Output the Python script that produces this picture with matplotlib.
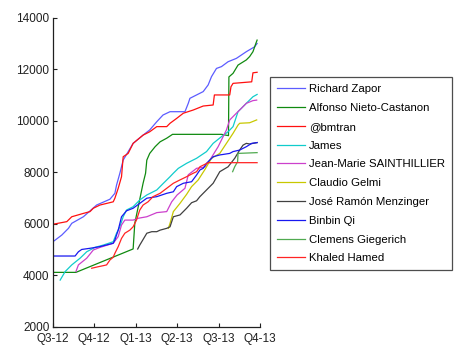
import matplotlib
matplotlib.use("Agg")
import matplotlib.pyplot as plt

plt.rcParams['font.family'] = ['Liberation Sans', 'DejaVu Sans']

quarter_labels = ["Q3-12", "Q4-12", "Q1-13", "Q2-13", "Q3-13", "Q4-13"]
y_ticks = [2000, 4000, 6000, 8000, 10000, 12000, 14000]

names = ["Richard Zapor", "Alfonso Nieto-Castanon", "@bmtran", "James",
         "Jean-Marie SAINTHILLIER", "Claudio Gelmi", "José Ramón Menzinger",
         "Binbin Qi", "Clemens Giegerich", "Khaled Hamed"]

# x in quarters since Q3-12, y = score
zapor_t = [0.04, 0.22, 0.38, 0.46, 0.74, 1.06, 1.38, 1.50, 1.54, 1.62, 1.70, 1.94, 2.18, 2.34,
           2.51, 2.66, 2.83, 3.19, 3.27, 3.31, 3.47, 3.63, 3.75, 3.83, 3.95, 4.07, 4.23, 4.43,
           4.67, 4.87, 4.93]
zapor_v = [5340, 5560, 5820, 6015, 6270, 6725, 6950, 7180, 7500, 7960, 8470, 9120, 9440, 9640,
           9960, 10220, 10350, 10350, 10675, 10870, 11000, 11130, 11390, 11710, 12030, 12100,
           12290, 12420, 12680, 12870, 13000]

alfonso_t = [0.0, 0.56, 1.94, 1.98, 2.18, 2.24, 2.27, 2.34, 2.47, 2.59, 2.75, 2.89, 4.07, 4.24,
             4.25, 4.35, 4.47, 4.67, 4.75, 4.83, 4.90, 4.93]
alfonso_v = [4110, 4110, 5020, 6015, 7570, 7960, 8470, 8730, 8990, 9180, 9320, 9470, 9470, 9420,
             11700, 11840, 12160, 12360, 12490, 12680, 13000, 13130]

bmtran_t = [0.0, 0.34, 0.46, 0.74, 0.90, 0.98, 1.14, 1.46, 1.50, 1.58, 1.66, 1.70, 1.82, 1.94,
            2.18, 2.34, 2.51, 2.75, 2.83, 2.99, 3.15, 3.39, 3.63, 3.87, 3.90, 4.27, 4.30, 4.35,
            4.80, 4.83, 4.93]
bmtran_v = [5977, 6080, 6270, 6400, 6470, 6600, 6725, 6850, 6990, 7375, 7825, 8600, 8730, 9120,
            9440, 9570, 9770, 9770, 9900, 10090, 10290, 10415, 10570, 10610, 11000, 11000, 11320,
            11450, 11510, 11860, 11880]

james_t = [0.18, 0.30, 0.46, 0.66, 0.82, 1.02, 1.22, 1.46, 1.54, 1.62, 1.70, 1.78, 1.94, 2.10,
           2.27, 2.51, 2.67, 2.83, 2.91, 3.03, 3.23, 3.47, 3.71, 3.87, 4.07, 4.23, 4.35, 4.47,
           4.67, 4.83, 4.93]
james_v = [3810, 4140, 4400, 4660, 4910, 5080, 5170, 5300, 5630, 5880, 6270, 6530, 6660, 6920,
           7115, 7310, 7570, 7825, 7960, 8150, 8345, 8540, 8800, 9120, 9380, 9570, 9770, 10350,
           10675, 10930, 11020]

jm_t = [0.56, 0.62, 0.82, 0.98, 1.14, 1.46, 1.58, 1.66, 1.74, 1.94, 2.06, 2.27, 2.51, 2.75,
        2.87, 3.00, 3.19, 3.27, 3.47, 3.67, 3.79, 3.99, 4.07, 4.19, 4.27, 4.43, 4.55, 4.67,
        4.83, 4.92]
jm_v = [4140, 4400, 4660, 4980, 5080, 5240, 5500, 5950, 6140, 6140, 6210, 6270, 6430, 6470,
        6850, 7115, 7375, 7900, 8150, 8200, 8470, 8990, 9250, 9640, 10030, 10290, 10480, 10675,
        10780, 10800]

gelmi_t = [2.79, 2.83, 2.91, 3.07, 3.23, 3.35, 3.51, 3.67, 3.83, 4.03, 4.19, 4.35, 4.47, 4.51,
           4.75, 4.92]
gelmi_v = [5820, 6015, 6470, 6790, 7140, 7440, 7700, 8100, 8540, 8730, 9120, 9510, 9830, 9900,
           9920, 10030]

jose_t = [2.05, 2.10, 2.27, 2.39, 2.51, 2.59, 2.75, 2.83, 2.91, 3.07, 3.23, 3.35, 3.47, 3.55,
          3.71, 3.87, 4.03, 4.23, 4.39, 4.51, 4.59, 4.67, 4.75, 4.93]
jose_v = [5017, 5170, 5630, 5690, 5690, 5750, 5820, 5880, 6270, 6340, 6600, 6815, 6890, 7050,
          7310, 7570, 8020, 8210, 8540, 8860, 9050, 9120, 9095, 9150]

binbin_t = [0.04, 0.54, 0.62, 0.70, 0.90, 1.14, 1.46, 1.50, 1.58, 1.66, 1.78, 1.94, 2.10, 2.27,
            2.51, 2.75, 2.91, 2.99, 3.15, 3.35, 3.47, 3.55, 3.63, 3.71, 3.87, 4.03, 4.27, 4.35,
            4.51, 4.67, 4.80, 4.93]
binbin_v = [4745, 4745, 4910, 5000, 5045, 5110, 5240, 5370, 5750, 6270, 6500, 6600, 6790, 6990,
            7050, 7180, 7240, 7440, 7570, 7630, 7890, 8085, 8150, 8345, 8600, 8670, 8730, 8800,
            8860, 8990, 9120, 9150]

clemens_t = [4.34, 4.39, 4.46, 4.47, 4.93]
clemens_v = [8020, 8210, 8410, 8730, 8760]

khaled_t = [0.94, 1.10, 1.22, 1.30, 1.38, 1.46, 1.50, 1.58, 1.66, 1.74, 1.86, 1.94, 2.02, 2.10,
            2.18, 2.30, 2.42, 2.59, 2.75, 2.91, 3.07, 3.23, 3.39, 3.47, 3.55, 3.75, 4.93]
khaled_v = [4270, 4330, 4370, 4400, 4590, 4700, 4850, 5110, 5430, 5630, 5750, 5880, 6140, 6530,
            6725, 6850, 7050, 7180, 7375, 7570, 7700, 7825, 7960, 8020, 8210, 8370, 8370]

series = [(zapor_t, zapor_v), (alfonso_t, alfonso_v), (bmtran_t, bmtran_v), (james_t, james_v),
          (jm_t, jm_v), (gelmi_t, gelmi_v), (jose_t, jose_v), (binbin_t, binbin_v),
          (clemens_t, clemens_v), (khaled_t, khaled_v)]
colors = ['#5c5cff', '#108a10', '#ff1010', '#10cccc', '#cc40cc', '#c8c800', '#404040',
          '#1818f0', '#50aa50', '#ff2424']

fig = plt.figure(figsize=(4.65, 3.57), dpi=100)
ax = fig.add_axes([52.7 / 465, 1 - 326.7 / 357, (260 - 52.7) / 465, (326.7 - 17.7) / 357])

lines = []
for (t, v), c, n in zip(series, colors, names):
    ln, = ax.plot(t, v, color=c, lw=0.9, label=n)
    lines.append(ln)

ax.set_xlim(0, 5)
ax.set_ylim(2000, 14000)
ax.set_xticks(range(len(quarter_labels)))
ax.set_xticklabels(quarter_labels)
ax.set_yticks(y_ticks)
for s in ['top', 'right']:
    ax.spines[s].set_visible(False)
for s in ['left', 'bottom']:
    ax.spines[s].set_color('#202020')
    ax.spines[s].set_linewidth(0.9)
ax.tick_params(direction='in', length=3, width=0.8, labelsize=8.5, colors='#202020')
ax.tick_params(axis='x', pad=4.8)
ax.tick_params(axis='y', pad=2.3)

leg = fig.legend(lines, names, loc='upper left', bbox_to_anchor=(270 / 465, 1 - 77.3 / 357),
                 fontsize=8.2, frameon=True, fancybox=False, edgecolor='#202020',
                 handlelength=2.45, handletextpad=0.36, borderpad=0.62, labelspacing=0.77,
                 borderaxespad=0)
leg.get_frame().set_linewidth(0.9)

fig.savefig("out.png", dpi=100)
